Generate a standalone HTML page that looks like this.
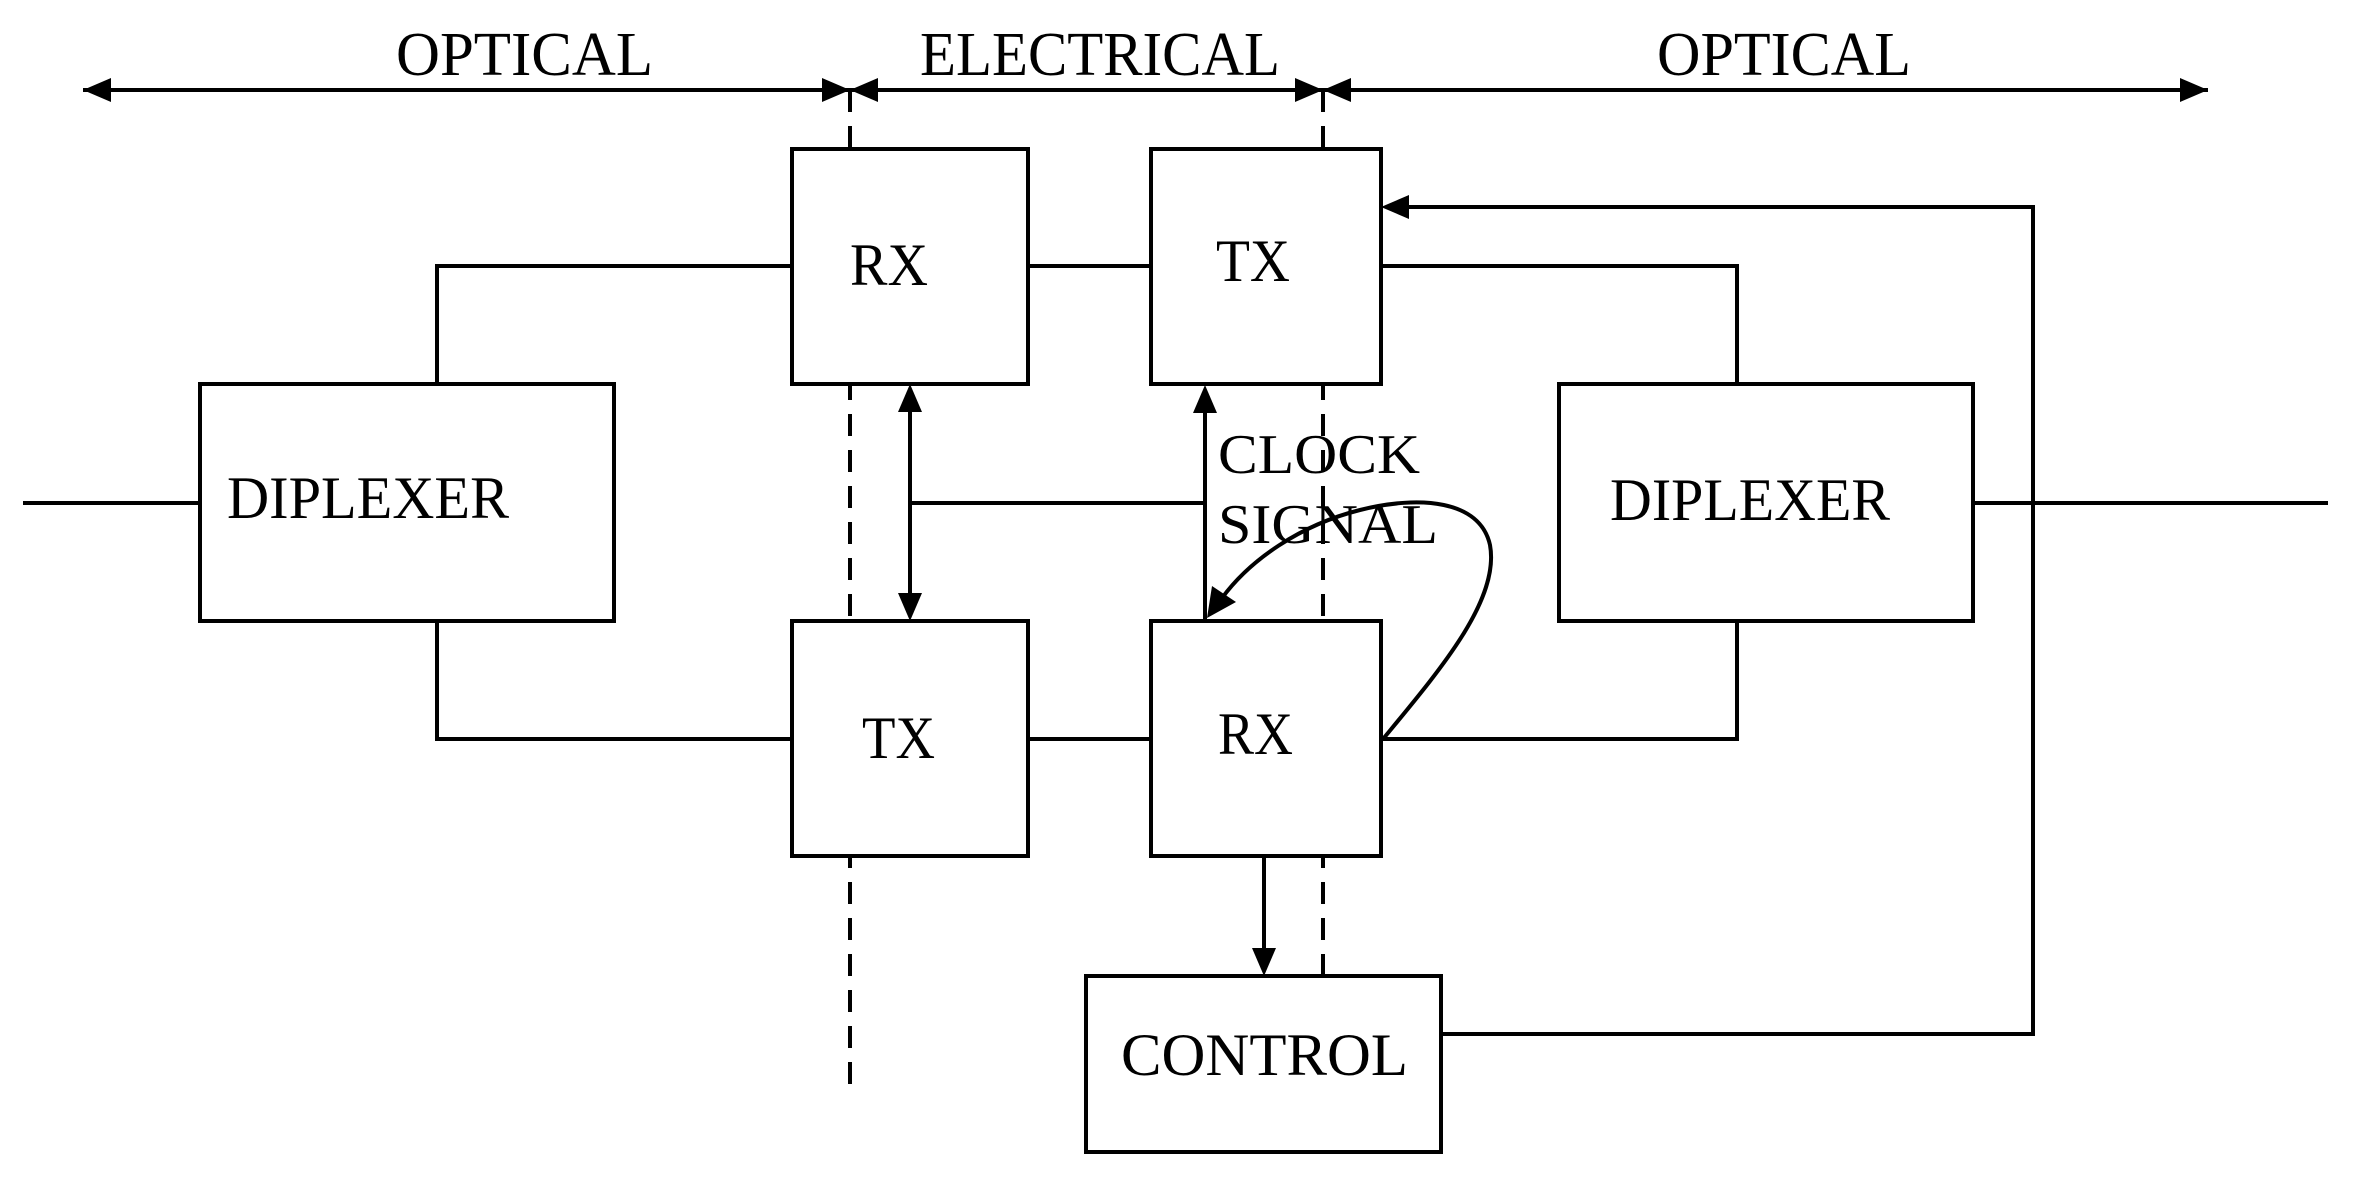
<!DOCTYPE html>
<html><head><meta charset="utf-8"><style>
html,body{margin:0;padding:0;background:#fff;}
svg{display:block;}
text{font-family:"Liberation Serif",serif;fill:#000;}
</style></head><body>
<svg width="2354" height="1177" viewBox="0 0 2354 1177" xmlns="http://www.w3.org/2000/svg">
<g stroke="#000" stroke-width="4" fill="none">
<line x1="83" y1="90" x2="2208" y2="90"/>
<line x1="850" y1="90" x2="850" y2="1090" stroke-dasharray="22,14"/>
<line x1="1323" y1="90" x2="1323" y2="976" stroke-dasharray="22,14"/>
<rect x="200" y="384" width="414" height="237" fill="#fff"/>
<rect x="792" y="149" width="236" height="235" fill="#fff"/>
<rect x="792" y="621" width="236" height="235" fill="#fff"/>
<rect x="1151" y="149" width="230" height="235" fill="#fff"/>
<rect x="1151" y="621" width="230" height="235" fill="#fff"/>
<rect x="1559" y="384" width="414" height="237" fill="#fff"/>
<rect x="1086" y="976" width="355" height="176" fill="#fff"/>
<line x1="23" y1="503" x2="200" y2="503"/>
<polyline points="437,384 437,266 792,266"/>
<polyline points="437,621 437,739 792,739"/>
<line x1="1028" y1="266" x2="1151" y2="266"/>
<line x1="1028" y1="739" x2="1151" y2="739"/>
<polyline points="1381,266 1737,266 1737,384"/>
<polyline points="1381,739 1737,739 1737,621"/>
<line x1="1973" y1="503" x2="2328" y2="503"/>
<line x1="910" y1="400" x2="910" y2="605"/>
<line x1="910" y1="503" x2="1205" y2="503"/>
<line x1="1205" y1="400" x2="1205" y2="621"/>
<line x1="1264" y1="856" x2="1264" y2="958"/>
<polyline points="1441,1034 2033,1034 2033,207 1398,207"/>
<path d="M1383,739 C1440,670 1500,600 1490,545 C1480,500 1420,495 1360,510 C1300,525 1250,560 1222,598"/>
</g>
<g fill="#000" stroke="none">
<polygon points="83,90 111,78 111,102"/>
<polygon points="2208,90 2180,78 2180,102"/>
<polygon points="850,90 822,78 822,102"/>
<polygon points="850,90 878,78 878,102"/>
<polygon points="1323,90 1295,78 1295,102"/>
<polygon points="1323,90 1351,78 1351,102"/>
<polygon points="910,384 898,412 922,412"/>
<polygon points="910,621 898,593 922,593"/>
<polygon points="1205,385 1193,413 1217,413"/>
<polygon points="1264,976 1252,948 1276,948"/>
<polygon points="1381,207 1409,195 1409,219"/>
<polygon points="1207,618 1212,586 1236,602"/>
</g>
<g>
<text x="396" y="75" font-size="62" textLength="257" lengthAdjust="spacingAndGlyphs">OPTICAL</text>
<text x="920" y="75" font-size="62" textLength="360" lengthAdjust="spacingAndGlyphs">ELECTRICAL</text>
<text x="1657" y="75" font-size="62" textLength="254" lengthAdjust="spacingAndGlyphs">OPTICAL</text>
<text x="227" y="518" font-size="60" textLength="282" lengthAdjust="spacingAndGlyphs">DIPLEXER</text>
<text x="1610" y="520" font-size="60" textLength="280" lengthAdjust="spacingAndGlyphs">DIPLEXER</text>
<text x="850" y="285" font-size="60" textLength="78" lengthAdjust="spacingAndGlyphs">RX</text>
<text x="862" y="758" font-size="60" textLength="73" lengthAdjust="spacingAndGlyphs">TX</text>
<text x="1216" y="281" font-size="60" textLength="74" lengthAdjust="spacingAndGlyphs">TX</text>
<text x="1218" y="754" font-size="60" textLength="75" lengthAdjust="spacingAndGlyphs">RX</text>
<text x="1121" y="1075" font-size="60" textLength="287" lengthAdjust="spacingAndGlyphs">CONTROL</text>
<text x="1218" y="473" font-size="56" textLength="202" lengthAdjust="spacingAndGlyphs">CLOCK</text>
<text x="1218" y="543" font-size="56" textLength="220" lengthAdjust="spacingAndGlyphs">SIGNAL</text>
</g>
</svg>
</body></html>
